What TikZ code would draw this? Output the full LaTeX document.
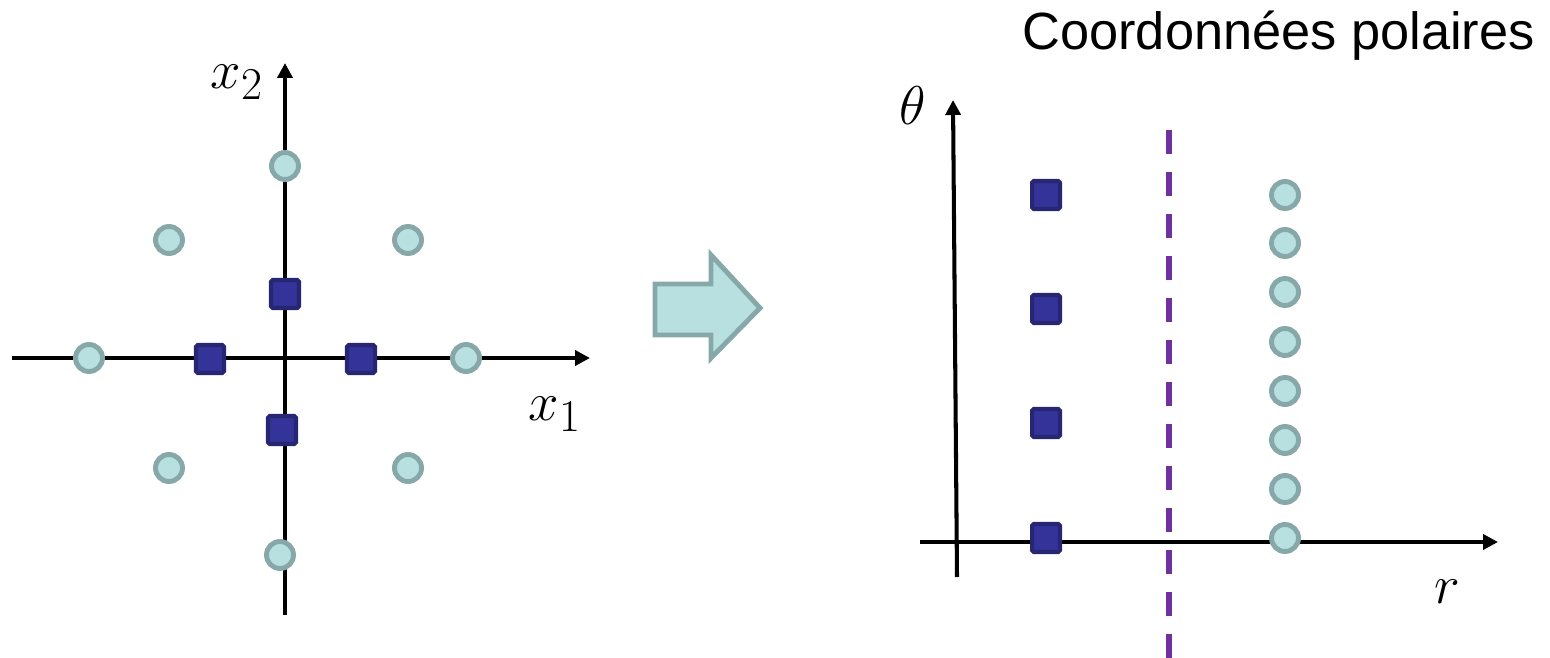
\documentclass[tikz,border=0pt]{standalone}
\usepackage{amsmath,amssymb}
\usepackage{fontspec}
\usepackage{xcolor}
\usepackage{tikz}
\usetikzlibrary{arrows.meta}
\setmainfont{Liberation Sans}

\definecolor{dotfill}{HTML}{B9E0E1}
\definecolor{dotline}{HTML}{87A8A8}
\definecolor{sqfill}{HTML}{333399}
\definecolor{sqline}{HTML}{262673}
\definecolor{sep}{HTML}{7030A0}

\newcommand{\mlab}[1]{\scalebox{1.25}{$#1$}}

\begin{document}
\begin{tikzpicture}[x=0.02cm, y=-0.02cm, >={Triangle[length=0.3cm,width=0.3cm]},
    axis/.style={->, line width=2.3pt},
    cdot/.style={circle, draw=dotline, fill=dotfill, line width=2.8pt, minimum size=0.54cm, inner sep=0pt},
    csq/.style={rectangle, draw=sqline, fill=sqfill, line width=2.3pt, rounded corners=1pt, minimum size=0.56cm, inner sep=0pt},
    lab/.style={font=\fontsize{24.88}{30}\selectfont}]
    \useasboundingbox (0,0) rectangle (1550,658);

    % cartesian plane
    \coordinate (h1w) at (12,358);
    \coordinate (h1e) at (590,358);
    \coordinate (v1s) at (285,615);
    \coordinate (v1n) at (285,63);
    \draw[axis] (h1w) -- (h1e);
    \draw[axis] (v1s) -- (v1n);
    \node[lab] (x2) at (237,82) {\mlab{x_2}};
    \node[lab] (x1) at (555,414) {\mlab{x_1}};

    \node[cdot] (c1) at (285,166) {};
    \node[cdot] (c2) at (169,240) {};
    \node[cdot] (c3) at (408,240) {};
    \node[cdot] (c4) at (89,358) {};
    \node[cdot] (c5) at (466,358) {};
    \node[cdot] (c6) at (169,468) {};
    \node[cdot] (c7) at (408,468) {};
    \node[cdot] (c8) at (280,555) {};
    \node[csq] (s1) at (285,294) {};
    \node[csq] (s2) at (210,359) {};
    \node[csq] (s3) at (361,359) {};
    \node[csq] (s4) at (282,430) {};

    % transformation arrow
    \draw[draw=dotline, fill=dotfill, line width=2.8pt]
        (655,284) -- (711,284) -- (711,255) -- (760,308) -- (711,358) -- (711,335) -- (655,335) -- cycle;

    % polar plane
    \node[font=\fontsize{29.8}{34}\selectfont, anchor=base east] (title) at (1541,50) {Coordonnées polaires};
    \coordinate (h2w) at (920,542);
    \coordinate (h2e) at (1498,542);
    \coordinate (v2s) at (957,577);
    \coordinate (v2n) at (953,100);
    \draw[axis] (h2w) -- (h2e);
    \draw[axis] (v2s) -- (v2n);
    \node[lab] (th) at (913,106) {\mlab{\theta}};
    \node[lab] (r) at (1447,592) {\mlab{r}};

    \coordinate (dtop) at (1169,130);
    \coordinate (dbot) at (1169,658);
    \draw[sep, line width=3.2pt, dash pattern=on 0.48cm off 0.36cm] (dtop) -- (dbot);

    \foreach \y [count=\i] in {195,309,423,538}
        \node[csq] (p\i) at (1046,\y) {};
    \foreach \y [count=\i] in {195,243,292,342,391,440,489,538}
        \node[cdot] (q\i) at (1285,\y) {};
\end{tikzpicture}
\end{document}
